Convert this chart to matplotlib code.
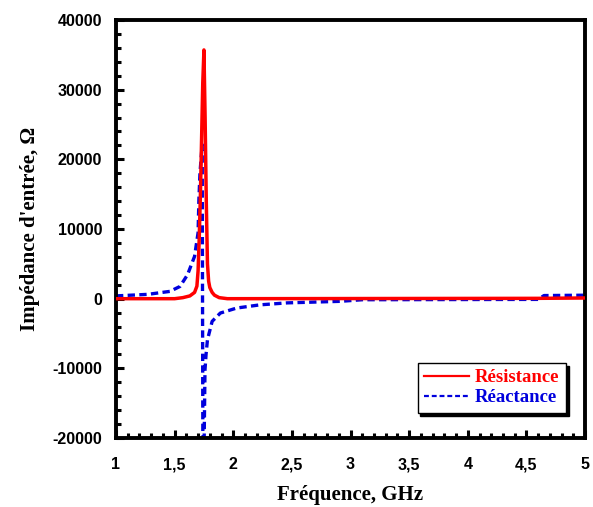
import numpy as np
import matplotlib.pyplot as plt
from matplotlib.ticker import MultipleLocator, FuncFormatter

# frequency (GHz) and input resistance (Ohm)
f_res = [1.0, 1.5, 1.57, 1.63, 1.67, 1.69, 1.70, 1.71, 1.72, 1.73, 1.74, 1.75,
         1.76, 1.77, 1.78, 1.79, 1.80, 1.82, 1.84, 1.88, 1.95, 4.6, 5.0]
resistance = [0, 0, 150, 400, 900, 1800, 4000, 8800, 15000, 23000, 31000, 35700,
              26000, 14000, 5000, 2500, 1600, 900, 500, 150, 0, 50, 100]

# frequency (GHz) and input reactance (Ohm)
f_rea = [1.0, 1.27, 1.46, 1.546, 1.61, 1.67, 1.70, 1.707, 1.716, 1.735, 1.742,
         1.748, 1.752, 1.759, 1.768, 1.78, 1.82, 1.89, 2.03, 2.23, 2.46, 2.91,
         3.1, 4.6, 4.65, 5.0]
reactance = [400, 620, 1050, 1760, 3440, 6070, 9470, 14200, 18000, 22100, -30000,
             -30000, -20000, -10200, -8000, -5900, -3250, -2060, -1340, -880, -600, -380,
             -150, -100, 450, 500]

serif = 'Liberation Serif'
sans = 'Liberation Sans'

fig = plt.figure(figsize=(5.93, 5.07), dpi=100)
ax = fig.add_axes([0.1956, 0.136, 0.791, 0.8246])

ax.plot(f_res, resistance, color='#ff0000', lw=2.5, label='Résistance', zorder=3)
ax.plot(f_rea, reactance, color='#0000dd', lw=2.4, ls=(0, (2.2, 1.3)), label='Réactance', zorder=2)

ax.set_xlim(1, 5)
ax.set_ylim(-20000, 40000)
ax.xaxis.set_major_locator(MultipleLocator(0.5))
ax.xaxis.set_minor_locator(MultipleLocator(0.1))
ax.yaxis.set_major_locator(MultipleLocator(10000))
ax.yaxis.set_minor_locator(MultipleLocator(2000))
ax.xaxis.set_major_formatter(FuncFormatter(lambda v, p: ('%g' % v).replace('.', ',')))
ax.yaxis.set_major_formatter(FuncFormatter(lambda v, p: '%d' % v))

for s in ax.spines.values():
    s.set_linewidth(2.8)
ax.tick_params(which='both', direction='in', top=False, right=False, width=2.2)
ax.tick_params(which='major', length=6)
ax.tick_params(which='minor', length=3.5)
ax.tick_params(axis='y', which='major', pad=10)
ax.tick_params(axis='x', which='major', pad=14)
for lab in ax.get_xticklabels() + ax.get_yticklabels():
    lab.set_fontfamily(sans)
    lab.set_fontweight('bold')
    lab.set_fontsize(11.5)

ax.set_xlabel('Fréquence, GHz', fontfamily=serif, fontweight='bold', fontsize=15, labelpad=9)
ax.set_ylabel("Impédance d'entrée, Ω", fontfamily=serif, fontweight='bold', fontsize=15, labelpad=9)

leg = ax.legend(loc='lower right', bbox_to_anchor=(0.959, 0.06), borderaxespad=0, fancybox=False,
                shadow={'color': 'k', 'alpha': 1}, framealpha=1, edgecolor='k',
                prop={'family': serif, 'weight': 'bold', 'size': 13.5},
                handlelength=2.4, handletextpad=0.3, borderpad=0.35, labelspacing=0.15)
leg.get_frame().set_linewidth(1.0)
for txt, c in zip(leg.get_texts(), ['#ff0000', '#0000dd']):
    txt.set_color(c)
for h in leg.get_lines():
    h.set_linewidth(1.6)

fig.savefig('out.png', dpi=100)
